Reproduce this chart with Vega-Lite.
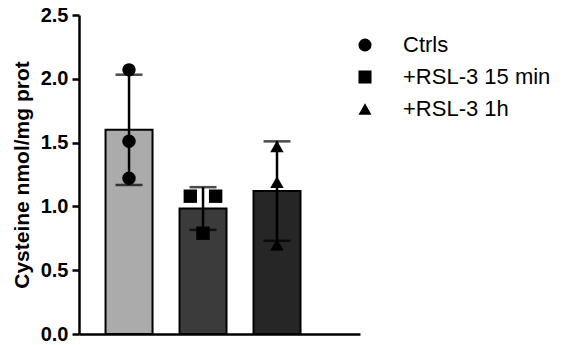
{
  "$schema": "https://vega.github.io/schema/vega-lite/v6.json",
  "autosize": "none",
  "padding": {"left": 79, "top": 15, "right": 207, "bottom": 11},
  "width": 281,
  "height": 319,
  "background": "white",
  "config": {
    "view": {"stroke": null},
    "font": "Liberation Sans",
    "axis": {
      "domainColor": "black", "domainWidth": 2.5, "tickColor": "black", "tickWidth": 2.5,
      "tickSize": 7, "labelFont": "Liberation Sans", "labelFontWeight": "bold", "labelFontSize": 20,
      "labelColor": "black", "grid": false, "titleFont": "Liberation Sans", "titleFontWeight": "bold",
      "titleFontSize": 21, "titleColor": "black"
    }
  },
  "data": {"values": [
    {"group": "Ctrls", "value": 2.07, "jitter": "center"},
    {"group": "Ctrls", "value": 1.51, "jitter": "center"},
    {"group": "Ctrls", "value": 1.22, "jitter": "center"},
    {"group": "+RSL-3 15 min", "value": 1.08, "jitter": "left"},
    {"group": "+RSL-3 15 min", "value": 1.08, "jitter": "right"},
    {"group": "+RSL-3 15 min", "value": 0.79, "jitter": "center"},
    {"group": "+RSL-3 1h", "value": 1.47, "jitter": "center"},
    {"group": "+RSL-3 1h", "value": 1.19, "jitter": "center"},
    {"group": "+RSL-3 1h", "value": 0.70, "jitter": "center"}
  ]},
  "encoding": {
    "x": {"field": "group", "type": "nominal", "sort": ["Ctrls", "+RSL-3 15 min", "+RSL-3 1h"],
      "scale": {"paddingInner": 0.35, "paddingOuter": 0.574, "align": 0.306},
      "axis": {"labels": false, "ticks": false, "title": null}}
  },
  "layer": [
    {
      "transform": [{"filter": "datum.group === 'Ctrls'"}],
      "mark": {"type": "bar", "stroke": "black", "strokeWidth": 2, "fill": "#ababab", "width": 47},
      "encoding": {
        "y": {"aggregate": "mean", "field": "value", "type": "quantitative",
          "scale": {"domain": [0, 2.5], "nice": false},
          "axis": {"values": [0, 0.5, 1, 1.5, 2, 2.5], "format": ".1f", "title": "Cysteine nmol/mg prot", "titlePadding": 8, "labelPadding": 4}}
      }
    },
    {
      "transform": [{"filter": "datum.group === '+RSL-3 15 min'"}],
      "mark": {"type": "bar", "stroke": "black", "strokeWidth": 2, "fill": "#3b3b3b", "width": 47},
      "encoding": {
        "y": {"aggregate": "mean", "field": "value", "type": "quantitative", "title": "Cysteine nmol/mg prot"}
      }
    },
    {
      "transform": [{"filter": "datum.group === '+RSL-3 1h'"}],
      "mark": {"type": "bar", "stroke": "black", "strokeWidth": 2, "fill": "#262626", "width": 47},
      "encoding": {
        "y": {"aggregate": "mean", "field": "value", "type": "quantitative", "title": "Cysteine nmol/mg prot"}
      }
    },
    {
      "mark": {"type": "errorbar", "extent": "stdev", "color": "black",
        "ticks": {"size": 27, "thickness": 2.5, "color": "black"}, "rule": {"strokeWidth": 2.5}},
      "encoding": {"y": {"field": "value", "type": "quantitative", "title": "Cysteine nmol/mg prot"}}
    },
    {
      "mark": {"type": "point", "filled": true, "color": "black", "opacity": 1, "size": 180},
      "encoding": {
        "y": {"field": "value", "type": "quantitative", "title": "Cysteine nmol/mg prot"},
        "xOffset": {"field": "jitter", "type": "nominal", "scale": {"type": "point", "domain": ["left", "center", "right"], "range": [5, 43]}},
        "shape": {"field": "group", "type": "nominal",
          "scale": {"domain": ["Ctrls", "+RSL-3 15 min", "+RSL-3 1h"], "range": ["circle", "square", "triangle-up"]},
          "legend": {"title": null, "orient": "none", "legendX": 275, "legendY": 19, "symbolSize": 170,
            "symbolFillColor": "black", "symbolStrokeColor": "black", "labelFontSize": 22, "labelFont": "Liberation Sans",
            "labelColor": "black", "labelOffset": 27, "rowPadding": 10, "symbolOpacity": 1}}
      }
    }
  ]
}
